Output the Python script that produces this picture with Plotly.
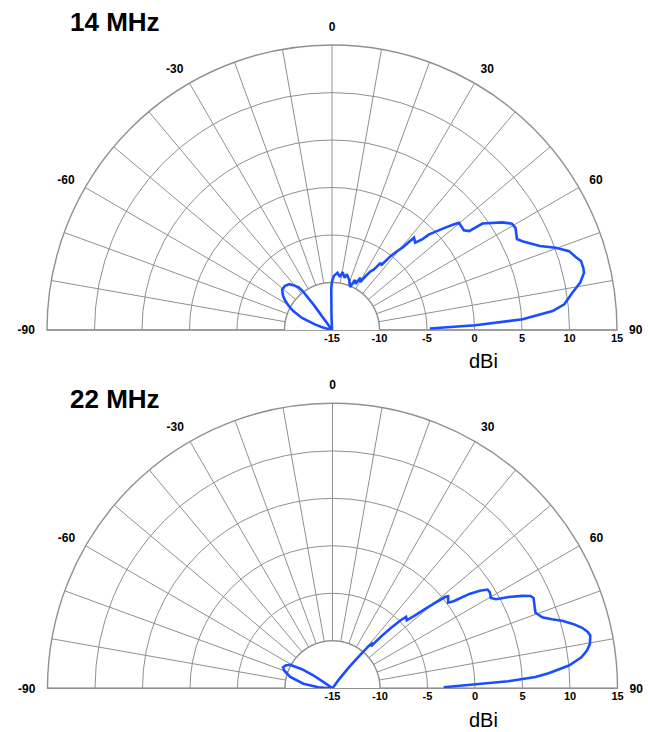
import numpy as np
import plotly.graph_objects as go

# Elevation-pattern gain (dBi) vs. elevation angle (deg from zenith), -15 dBi floor
theta_14 = [-90, -78, -75, -72, -68, -64, -61, -58, -55, -51, -47, -43, -40, -38, -37, -36, -35,
            -3, -2, -1, 0, 2, 5.5, 8.5, 10.4, 13.5, 15, 19, 23, 24.5, 27, 28.5, 30.5,
            32, 33.3, 34.7, 35.9, 37.2, 38.5, 39.6, 40.5, 41.6, 43.6, 44.9, 45.4, 47.5, 49.1,
            49.8, 52.9, 54.2, 54.7, 57.7, 59.4, 60.9, 63.8, 65, 68, 69.8, 71.6, 73.4, 74.5, 76.2,
            77.2, 79.2, 81.2, 83.7, 85.1, 86.8, 88.1, 89.1]
gain_14 = [-15, -15, -14.0, -13.1, -11.6, -10.5, -9.8, -9.2, -8.7, -8.25, -8.2, -8.4, -8.9, -9.3, -9.9, -11.8, -15,
           -15, -13.5, -10.6, -9.9, -9.3, -8.95, -9.35, -8.8, -9.35, -8.93, -9.43, -10.1, -9.2, -9.55, -8.75, -9.15,
           -8.3, -7.6, -7.24, -6.27, -6.45, -5.0, -4.2, -3.6, -2.0, -2.3, -1.5, -0.7, 0.8, 2.0,
           2.5, 2.4, 2.8, 4.4, 6.2, 7.0, 7.1, 6.7, 7.1, 8.6, 10.1, 11.3, 11.8, 12.2, 12.25,
           12.2, 11.6, 10.6, 9.6, 8.3, 5.1, 0.1, -4.7]

theta_22 = [-90, -89, -86, -81, -75, -70, -67, -64, -61, -58, -56, -55, -54,
            34, 36, 38, 39.5, 40.5, 41.5, 42.5, 43.2, 44, 45, 45.8, 47.5, 48.5, 49.5, 50.3, 51, 51.5,
            53.5, 54.3, 55.4, 56.5, 57.5, 58.5, 59.5, 60.3, 61.4, 62.6, 64, 65, 65.8, 67.5, 69.5,
            71.3, 72.5, 73.6, 75, 76.3, 77.5, 78.4, 80.2, 81.5, 82.9, 84.5, 86, 86.8, 87.7, 88.4, 89.5]
gain_22 = [-15, -14.6, -13.5, -11.9, -10.4, -9.6, -9.35, -9.5, -9.9, -11.2, -12.5, -14, -15,
           -15, -13.8, -12.2, -10.6, -9.2, -8.6, -9.0, -7.5, -6.2, -4.9, -4.2, -4.4, -3.4, -2.0, -0.8, 0.3, 0.55,
           0.15, 0.7, 2.5, 3.6, 4.35, 4.4, 4.3, 4.2, 4.6, 5.9, 7.2, 8.0, 8.2, 8.0, 7.8,
           8.3, 9.2, 10.2, 11.2, 12.0, 12.5, 12.7, 12.5, 12.1, 11.4, 10.0, 7.8, 6.4, 3.5, 0.1, -3.3]

angle_ticks = list(range(-90, 91, 10))
angle_labels = [str(a) if a % 30 == 0 else "" for a in angle_ticks]
gain_ticks = [-15, -10, -5, 0, 5, 10, 15]
gain_labels = [str(g) for g in gain_ticks]

GRID = "#909090"
LINE = "#1a4dff"
FONT = "Liberation Sans, Arial, sans-serif"

fig = go.Figure()

panels = [
    ("polar", theta_14, gain_14),
    ("polar2", theta_22, gain_22),
]
arc = np.linspace(-90, 90, 181)
for sub, th, g in panels:
    # blank inner disc below -10 dBi, edged by the -10 dBi ring
    fig.add_trace(go.Scatterpolar(
        r=[-10] * len(arc), theta=arc, mode="lines", fill="toself",
        fillcolor="white", line=dict(color=GRID, width=1.4),
        hoverinfo="skip", showlegend=False, subplot=sub))
    fig.add_trace(go.Scatterpolar(
        r=g, theta=th, mode="lines", line=dict(color=LINE, width=2.6),
        showlegend=False, subplot=sub))


def polar_layout(xdom, ydom):
    return dict(
        domain=dict(x=xdom, y=ydom),
        sector=[0, 180],
        bgcolor="white",
        angularaxis=dict(
            rotation=90, direction="clockwise",
            tickmode="array", tickvals=angle_ticks, ticktext=angle_labels,
            showgrid=True, gridcolor=GRID, gridwidth=1.4,
            showline=True, linecolor=GRID, linewidth=1.4,
            ticks="outside", ticklen=9, tickcolor="rgba(0,0,0,0)",
            layer="below traces",
            tickfont=dict(family=FONT, size=12, color="black", weight="bold"),
        ),
        radialaxis=dict(
            range=[-15, 15], tickmode="array", tickvals=gain_ticks, ticktext=gain_labels,
            showgrid=True, gridcolor=GRID, gridwidth=1.4,
            showline=False, ticks="", angle=0, side="clockwise", tickangle=0,
            layer="below traces",
            tickfont=dict(family=FONT, size=11, color="black", weight="bold"),
        ),
    )


W, H = 648, 732
R = 285
c1 = (332, 330)
c2 = (332.5, 688.3)


def dom(c):
    xd = [(c[0] - R) / W, (c[0] + R) / W]
    yd = [1 - c[1] / H, 1 - (c[1] - R) / H]
    return xd, yd


d1 = dom(c1)
d2 = dom(c2)

annotations = []
for text, ty in [("14 MHz", 22), ("22 MHz", 399)]:
    annotations.append(dict(
        text=text, x=68 / W, y=1 - ty / H, xref="paper", yref="paper",
        xanchor="left", yanchor="middle", showarrow=False,
        font=dict(family=FONT, size=26, color="black", weight="bold")))
for ty in [361, 720]:
    annotations.append(dict(
        text="dBi", x=483 / W, y=1 - ty / H, xref="paper", yref="paper",
        xanchor="center", yanchor="middle", showarrow=False,
        font=dict(family=FONT, size=20, color="black")))

fig.update_layout(
    width=W, height=H, autosize=False,
    margin=dict(l=0, r=0, t=0, b=0),
    paper_bgcolor="white",
    polar=polar_layout(*d1),
    polar2=polar_layout(*d2),
    annotations=annotations,
)

fig.write_html("out.html")
